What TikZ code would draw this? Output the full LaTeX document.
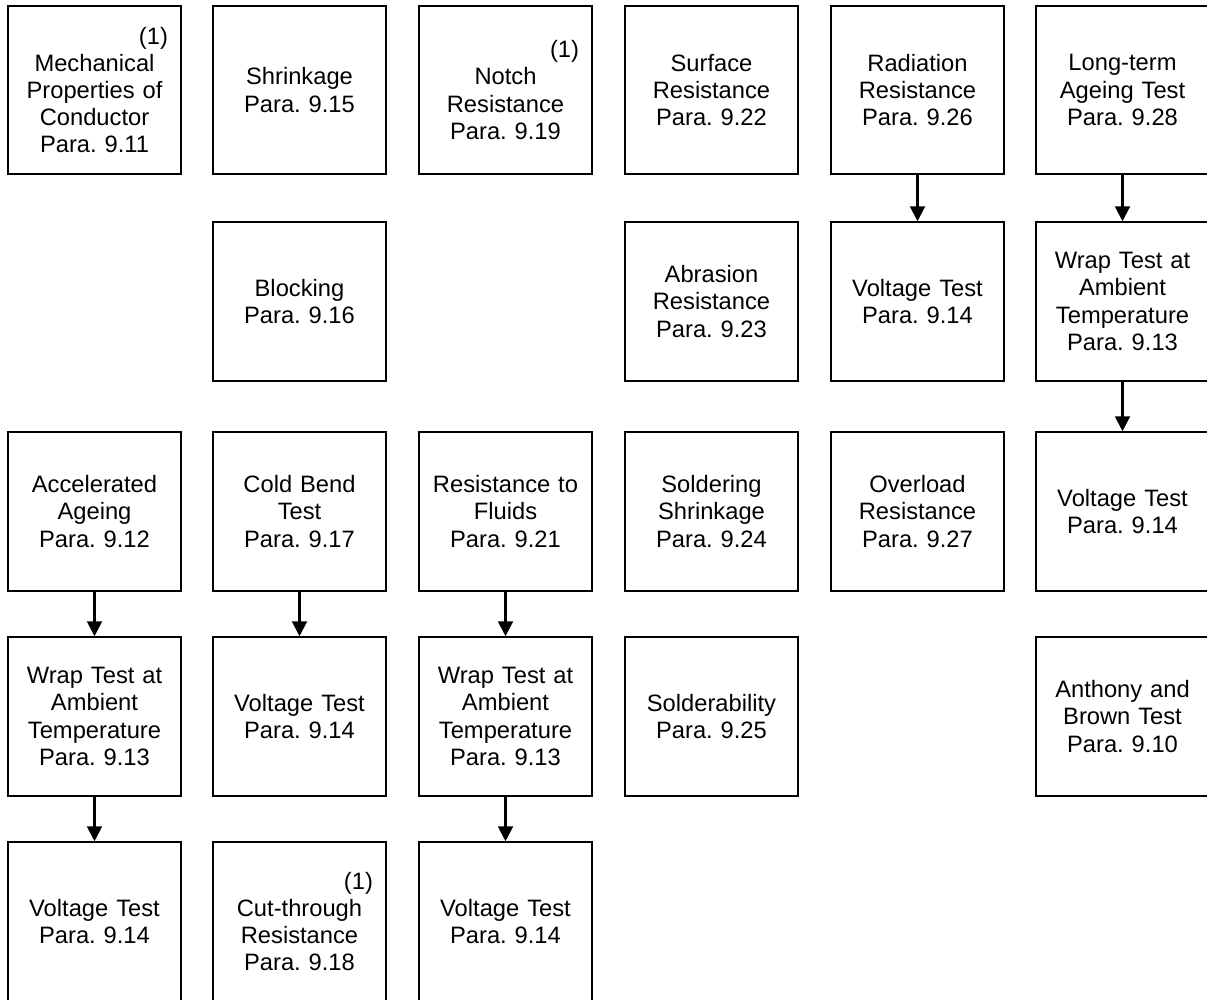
\documentclass[tikz,border=0pt]{standalone}
\usepackage{fontspec}
\setmainfont{Liberation Sans}
\usetikzlibrary{arrows.meta}

% note mark set flush right on the first line of a box
\newcommand{\noteone}{\hspace*{0pt plus 1filll}(1)}

\begin{document}
\frenchspacing
\begin{tikzpicture}[x=0.02cm,y=-0.02cm,
  every node/.style={inner sep=0pt},
  testbox/.style={draw,line width=0.9pt,minimum width=3.46cm,
    minimum height=3.18cm,text width=2.94cm,align=center,
    font=\fontsize{13.5pt}{15.5pt}\selectfont},
  toprow/.style={testbox,minimum height=3.36cm},
  flow/.style={line width=1.2pt,-{Triangle[width=8.5pt,length=8.5pt]}}]
\useasboundingbox (0,0) rectangle (1207,1000);
% first row
\node[toprow] (mech) at (94.5,90) {\noteone\\Mechanical\\Properties of\\Conductor\\Para. 9.11};
\node[toprow] (shrink) at (299.5,90) {Shrinkage\\Para. 9.15};
\node[toprow] (notch) at (505.5,90) {\noteone\\Notch\\Resistance\\Para. 9.19};
\node[toprow] (surf) at (711.5,90) {Surface\\Resistance\\Para. 9.22};
\node[toprow] (rad) at (917.5,90) {Radiation\\Resistance\\Para. 9.26};
\node[toprow] (ageing) at (1122.5,90) {Long-term\\Ageing Test\\Para. 9.28};
% second row
\node[testbox] (block) at (299.5,301.5) {Blocking\\Para. 9.16};
\node[testbox] (abras) at (711.5,301.5) {Abrasion\\Resistance\\Para. 9.23};
\node[testbox] (voltrad) at (917.5,301.5) {Voltage Test\\Para. 9.14};
\node[testbox] (wrapage) at (1122.5,301.5) {Wrap Test at\\Ambient\\Temperature\\Para. 9.13};
% third row
\node[testbox] (accel) at (94.5,511.5) {Accelerated\\Ageing\\Para. 9.12};
\node[testbox] (cold) at (299.5,511.5) {Cold Bend\\Test\\Para. 9.17};
\node[testbox] (fluid) at (505.5,511.5) {Resistance to\\Fluids\\Para. 9.21};
\node[testbox] (solder) at (711.5,511.5) {Soldering\\Shrinkage\\Para. 9.24};
\node[testbox] (overload) at (917.5,511.5) {Overload\\Resistance\\Para. 9.27};
\node[testbox] (voltage) at (1122.5,511.5) {Voltage Test\\Para. 9.14};
% fourth row
\node[testbox] (wrapacc) at (94.5,716.5) {Wrap Test at\\Ambient\\Temperature\\Para. 9.13};
\node[testbox] (voltcold) at (299.5,716.5) {Voltage Test\\Para. 9.14};
\node[testbox] (wrapfluid) at (505.5,716.5) {Wrap Test at\\Ambient\\Temperature\\Para. 9.13};
\node[testbox] (solderab) at (711.5,716.5) {Solderability\\Para. 9.25};
\node[testbox] (anthony) at (1122.5,716.5) {Anthony and\\Brown Test\\Para. 9.10};
% fifth row
\node[testbox] (voltacc) at (94.5,921.5) {Voltage Test\\Para. 9.14};
\node[testbox] (cut) at (299.5,921.5) {\noteone\\Cut-through\\Resistance\\Para. 9.18};
\node[testbox] (voltfluid) at (505.5,921.5) {Voltage Test\\Para. 9.14};
% sequences
\draw[flow] (accel)--(wrapacc);
\draw[flow] (wrapacc)--(voltacc);
\draw[flow] (cold)--(voltcold);
\draw[flow] (fluid)--(wrapfluid);
\draw[flow] (wrapfluid)--(voltfluid);
\draw[flow] (rad)--(voltrad);
\draw[flow] (ageing)--(wrapage);
\draw[flow] (wrapage)--(voltage);
\end{tikzpicture}
\end{document}
